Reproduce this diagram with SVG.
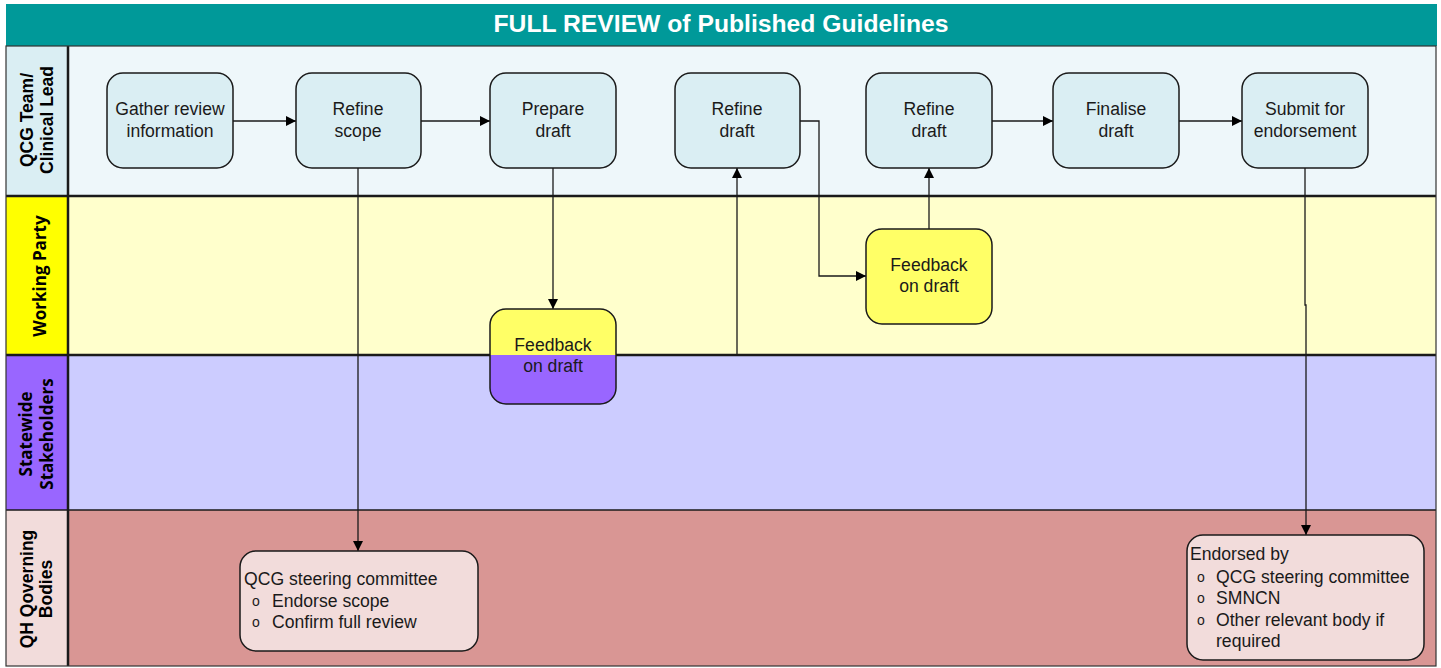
<svg xmlns="http://www.w3.org/2000/svg" width="1441" height="668" viewBox="0 0 1441 668">
<style>
.lbl{font-family:"Liberation Sans",Arial,sans-serif;font-weight:bold;font-size:17.5px;fill:#000;text-anchor:middle}
.lblc{font-family:"Open Sans","Liberation Sans",sans-serif;font-weight:bold;font-size:17px;fill:#000;text-anchor:middle}
.t{font-family:"Liberation Sans",Arial,sans-serif;font-size:17.6px;fill:#1a1a1a;text-anchor:middle}
.tl{font-family:"Liberation Sans",Arial,sans-serif;font-size:17.6px;fill:#1a1a1a}
.bul{font-family:"Liberation Sans",Arial,sans-serif;font-size:14px;fill:#1a1a1a}
.box{fill:#DAEEF3;stroke:#1a1a1a;stroke-width:1.5}
.conn{fill:none;stroke:#1a1a1a;stroke-width:1.3}
.sep{stroke:#1a1a1a;stroke-width:2.5}
</style>
<defs>
<marker id="ah" viewBox="0 0 10 10" refX="10" refY="5" markerWidth="10" markerHeight="10" markerUnits="userSpaceOnUse" orient="auto">
<path d="M0,0 L10,5 L0,10 z" fill="#000"/>
</marker>
</defs>
<rect width="1441" height="668" fill="#fff"/>
<g id="title">
<rect x="6" y="4" width="1431" height="42" fill="#009999"/>
<text x="721" y="32" font-family="Liberation Sans,Arial,sans-serif" font-weight="bold" font-size="24.7" fill="#fff" text-anchor="middle">FULL REVIEW of Published Guidelines</text>
</g>
<g id="lanes">
<rect x="68" y="46" width="1368" height="150" fill="#EEF7FA"/>
<rect x="6" y="46" width="62" height="150" fill="#DAEEF3"/>
<rect x="68" y="196" width="1368" height="159" fill="#FFFFCC"/>
<rect x="6" y="196" width="62" height="159" fill="#FFFF00"/>
<rect x="68" y="355" width="1368" height="155" fill="#CCCCFF"/>
<rect x="6" y="355" width="62" height="155" fill="#9966FF"/>
<rect x="68" y="510" width="1368" height="156" fill="#D99694"/>
<rect x="6" y="510" width="62" height="156" fill="#F2DCDB"/>
<line class="sep" x1="6" y1="196" x2="1436" y2="196"/>
<line class="sep" x1="6" y1="355" x2="1436" y2="355"/>
<line x1="6" y1="510" x2="1436" y2="510" stroke="#1a1a1a" stroke-width="1.5"/>
<line class="sep" x1="68" y1="46" x2="68" y2="666"/>
<rect x="6" y="46" width="1430" height="620" fill="none" stroke="#333" stroke-width="1.2"/>
<text class="lbl" transform="translate(37,120) rotate(-90)"><tspan x="0" y="-4">QCG Team/</tspan><tspan x="0" y="16">Clinical Lead</tspan></text>
<text class="lblc" transform="translate(46,276) rotate(-90)" x="0" y="0">Working Party</text>
<text class="lblc" transform="translate(37,434) rotate(-90)"><tspan x="0" y="-5">Statewide</tspan><tspan x="0" y="16">Stakeholders</tspan></text>
<text class="lbl" transform="translate(37,589) rotate(-90)"><tspan x="0" y="-4">QH Qoverning</tspan><tspan x="0" y="15">Bodies</tspan></text>
</g>
<g id="connectors">
<line class="conn" x1="233" y1="121" x2="296" y2="121" marker-end="url(#ah)"/>
<line class="conn" x1="421" y1="121" x2="490" y2="121" marker-end="url(#ah)"/>
<line class="conn" x1="992" y1="121" x2="1053" y2="121" marker-end="url(#ah)"/>
<line class="conn" x1="1179" y1="121" x2="1242" y2="121" marker-end="url(#ah)"/>
<line class="conn" x1="553" y1="168" x2="553" y2="309" marker-end="url(#ah)"/>
<polyline class="conn" points="616,355 737,355 737,168" marker-end="url(#ah)"/>
<polyline class="conn" points="800,121 819,121 819,276 866,276" marker-end="url(#ah)"/>
<line class="conn" x1="929" y1="229" x2="929" y2="168" marker-end="url(#ah)"/>
<line class="conn" x1="358" y1="168" x2="358" y2="551" marker-end="url(#ah)"/>
<polyline class="conn" points="1305,168 1305,305 1306,305 1306,535" marker-end="url(#ah)"/>
</g>
<g id="gather"><rect class="box" x="107" y="73" width="126" height="95" rx="16"/><text class="t" x="170" y="115">Gather review</text><text class="t" x="170" y="137">information</text></g>
<g id="refine-scope"><rect class="box" x="296" y="73" width="125" height="95" rx="16"/><text class="t" x="358" y="115">Refine</text><text class="t" x="358" y="137">scope</text></g>
<g id="prepare-draft"><rect class="box" x="490" y="73" width="126" height="95" rx="16"/><text class="t" x="553" y="115">Prepare</text><text class="t" x="553" y="137">draft</text></g>
<g id="refine-draft-1"><rect class="box" x="675" y="73" width="125" height="95" rx="16"/><text class="t" x="737" y="115">Refine</text><text class="t" x="737" y="137">draft</text></g>
<g id="refine-draft-2"><rect class="box" x="866" y="73" width="126" height="95" rx="16"/><text class="t" x="929" y="115">Refine</text><text class="t" x="929" y="137">draft</text></g>
<g id="finalise"><rect class="box" x="1053" y="73" width="126" height="95" rx="16"/><text class="t" x="1116" y="115">Finalise</text><text class="t" x="1116" y="137">draft</text></g>
<g id="submit"><rect class="box" x="1242" y="73" width="126" height="95" rx="16"/><text class="t" x="1305" y="115">Submit for</text><text class="t" x="1305" y="137">endorsement</text></g>
<g id="feedback-1">
<clipPath id="fb1"><rect x="490" y="309" width="126" height="95" rx="16"/></clipPath>
<rect x="490" y="309" width="126" height="46" fill="#FFFF66" clip-path="url(#fb1)"/>
<rect x="490" y="355" width="126" height="49" fill="#9966FF" clip-path="url(#fb1)"/>
<rect x="490" y="309" width="126" height="95" rx="16" fill="none" stroke="#1a1a1a" stroke-width="1.5"/>
<text class="t" x="553" y="351">Feedback</text><text class="t" x="553" y="372">on draft</text>
</g>
<g id="feedback-2"><rect x="866" y="229" width="126" height="95" rx="16" fill="#FFFF66" stroke="#1a1a1a" stroke-width="1.5"/><text class="t" x="929" y="271">Feedback</text><text class="t" x="929" y="292">on draft</text></g>
<g id="qcg-steering">
<rect x="240" y="551" width="238" height="100" rx="16" fill="#F2DCDB" stroke="#1a1a1a" stroke-width="1.5"/>
<text class="tl" x="244" y="585">QCG steering committee</text>
<text class="bul" x="252" y="606">o</text><text class="tl" x="272" y="607">Endorse scope</text>
<text class="bul" x="252" y="627">o</text><text class="tl" x="272" y="628">Confirm full review</text>
</g>
<g id="endorsed">
<rect x="1187" y="535" width="237" height="125" rx="16" fill="#F2DCDB" stroke="#1a1a1a" stroke-width="1.5"/>
<text class="tl" x="1190" y="560">Endorsed by</text>
<text class="bul" x="1197" y="582">o</text><text class="tl" x="1216" y="583">QCG steering committee</text>
<text class="bul" x="1197" y="603">o</text><text class="tl" x="1216" y="604">SMNCN</text>
<text class="bul" x="1197" y="625">o</text><text class="tl" x="1216" y="626">Other relevant body if</text>
<text class="tl" x="1216" y="647">required</text>
</g>
</svg>
